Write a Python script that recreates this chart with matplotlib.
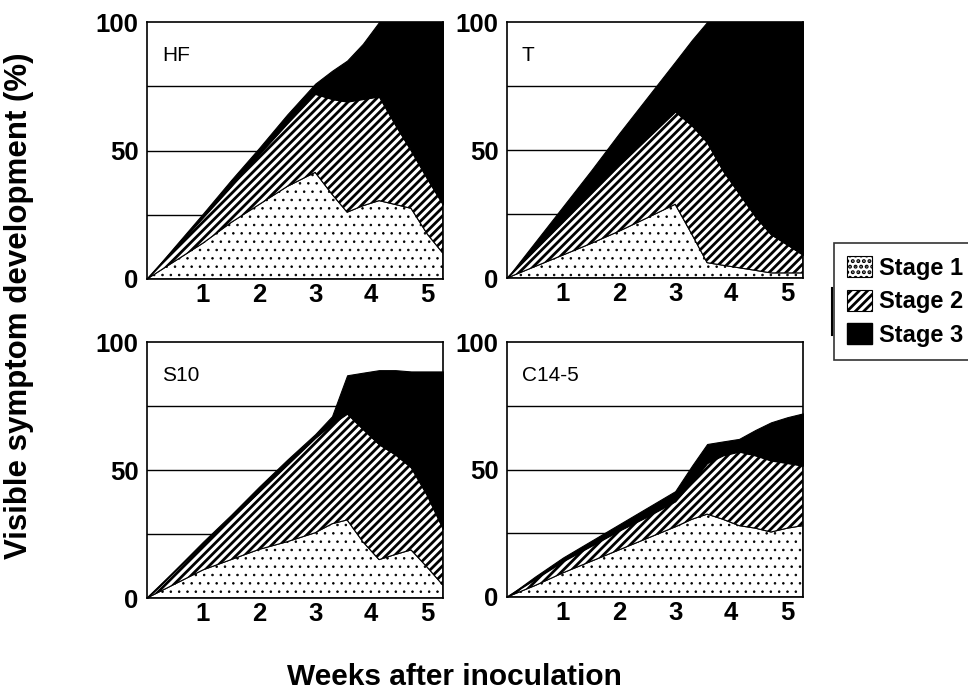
import numpy as np
import matplotlib
matplotlib.use("Agg")
import matplotlib.pyplot as plt
from matplotlib.patches import Patch
from matplotlib.lines import Line2D

plt.rcParams["font.family"] = ["Liberation Sans", "DejaVu Sans"]
plt.rcParams["hatch.color"] = "black"

# weeks after inoculation (shared sampling points)
weeks = [0, 0.5, 1, 1.5, 2, 2.5, 3, 3.3, 3.57, 3.85, 4.14, 4.43, 4.71, 5.0, 5.28]

# % of plants in each stage
hf_s1 = [0, 7, 14, 22, 29, 36, 41.5, 33, 26, 28.5, 30.5, 29, 27.5, 17.5, 10]
hf_s2 = [0, 5, 10, 14, 19.5, 24.5, 30.5, 37, 43, 41.5, 40.5, 31, 22.5, 21.5, 19]
hf_s3 = [0, 0.8, 1.5, 2.5, 2.5, 3.5, 4, 11, 16, 21.5, 29, 40, 50, 61, 71]

t_s1 = [0, 4.5, 9, 13.5, 18.3, 23.5, 28.8, 17, 6, 5, 4, 3, 2, 2, 2]
t_s2 = [0, 6.5, 13, 19.5, 25.7, 31, 36.2, 42.5, 47, 37, 29, 21, 15, 11, 7]
t_s3 = [0, 3, 6, 9, 12.5, 16, 19.5, 33.5, 47, 58, 67, 76, 83, 87, 91]

s10_s1 = [0, 5.5, 11, 15, 19, 22, 25.5, 29, 30.5, 22, 15, 17, 18.8, 12, 5]
s10_s2 = [0, 5, 10, 16, 22.5, 30, 37, 39, 41.5, 44, 45, 39, 32.2, 28, 22]
s10_s3 = [0, 0.5, 1, 1.5, 2, 2, 1.5, 3, 15, 22, 29, 33, 37.5, 48.5, 61.5]

c14_s1 = [0, 4.5, 9.5, 14, 18.5, 23, 27.5, 30.5, 32.5, 30.5, 28, 27, 25.5, 27, 28]
c14_s2 = [0, 2.5, 4.5, 6, 7.5, 8.5, 10, 14.5, 20, 25, 29, 28.5, 28, 25.5, 23.5]
c14_s3 = [0, 1, 1.5, 2, 2.5, 3.5, 4, 6.5, 7.5, 5.5, 5, 10, 15, 18, 20.5]

panels = [("HF", hf_s1, hf_s2, hf_s3),
          ("T", t_s1, t_s2, t_s3),
          ("S10", s10_s1, s10_s2, s10_s3),
          ("C14-5", c14_s1, c14_s2, c14_s3)]
stage_names = ["Stage 1", "Stage 2", "Stage 3"]

# fill style per stage: facecolor, hatch, hatch linewidth
styles = [("white", "..", 0.6), ("white", "////", 2.0), ("black", None, 1.0)]


def hatched(fc, hatch, hlw, **kw):
    plt.rcParams["hatch.linewidth"] = hlw
    return dict(facecolor=fc, hatch=hatch, edgecolor="black", **kw)


W, H = 968, 693
fig = plt.figure(figsize=(W / 100, H / 100), dpi=100)

# axes boxes in pixels: left, top, right, bottom
boxes = [(147, 22, 443, 279), (507, 22, 803, 278),
         (147, 342, 443, 598), (507, 342, 803, 597)]

for (name, s1, s2, s3), (l, t, r, b) in zip(panels, boxes):
    ax = fig.add_axes([l / W, 1 - b / H, (r - l) / W, (b - t) / H])
    for y in (25, 50, 75):
        ax.axhline(y, color="black", lw=1.0, zorder=0)
    tops = np.cumsum(np.vstack([s1, s2, s3]), axis=0)
    lower = np.zeros(len(weeks))
    for top, (fc, hatch, hlw) in zip(tops, styles):
        pc = ax.fill_between(weeks, lower, top,
                             **hatched(fc, hatch, hlw, linewidth=0.8, zorder=2))
        if hasattr(pc, "set_hatch_linewidth"):
            pc.set_hatch_linewidth(hlw)
        lower = top
    ax.set_xlim(0, 5.28)
    ax.set_ylim(0, 100)
    ax.set_xticks([1, 2, 3, 4, 5])
    ax.set_yticks([0, 50, 100])
    ax.tick_params(axis="x", length=0, labelsize=18.5, pad=3)
    ax.tick_params(axis="y", length=0, labelsize=18.5, pad=6)
    for lab in ax.get_xticklabels() + ax.get_yticklabels():
        lab.set_fontweight("bold")
    for sp in ax.spines.values():
        sp.set_linewidth(1.2)
        sp.set_zorder(3)
    ax.text(0.05, 0.87, name, transform=ax.transAxes, fontsize=15,
            va="center", ha="left")

fig.text(19 / W, 1 - 306 / H, "Visible symptom development (%)", rotation=90,
         fontsize=22.5, fontweight="bold", ha="center", va="center")
fig.text(454 / W, 1 - 677 / H, "Weeks after inoculation", fontsize=21.5,
         fontweight="bold", ha="center", va="center")

plt.rcParams["hatch.linewidth"] = 2.0
handles = [Patch(facecolor="white", edgecolor="black", hatch="...", lw=0.8),
           Patch(facecolor="white", edgecolor="black", hatch="////", lw=0.8),
           Patch(facecolor="black", edgecolor="black")]
if hasattr(handles[0], "set_hatch_linewidth"):
    handles[0].set_hatch_linewidth(0.6)
leg = fig.legend(handles, stage_names, loc="upper left",
                 bbox_to_anchor=(834 / W, 1 - 243 / H), borderaxespad=0,
                 prop={"weight": "bold", "size": 17}, frameon=True,
                 fancybox=False, handlelength=1.05, handleheight=1.0,
                 handletextpad=0.3, labelspacing=0.42, borderpad=0.55)
leg.get_frame().set_edgecolor("black")
leg.get_frame().set_linewidth(1.2)
fig.add_artist(Line2D([832 / W, 832 / W], [1 - 288 / H, 1 - 335 / H],
                      color="black", lw=1.5))

fig.savefig("out.png", dpi=100)
